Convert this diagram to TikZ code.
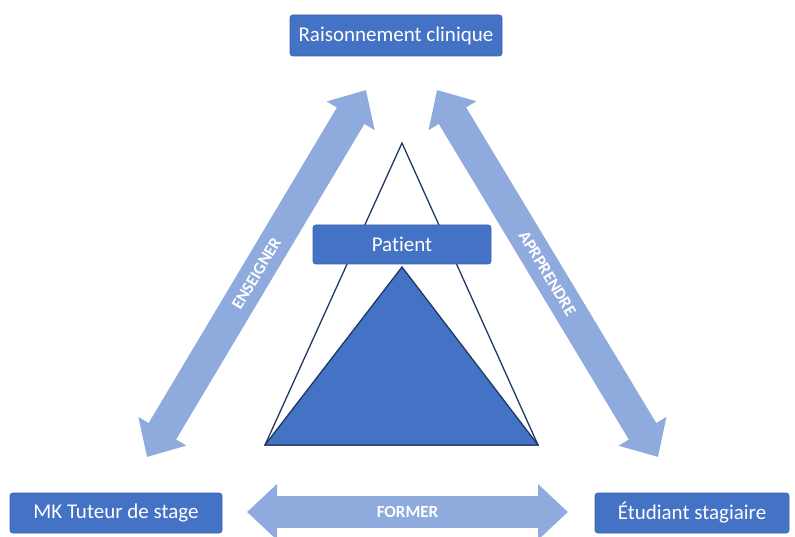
\documentclass[tikz,border=0pt]{standalone}
\usepackage{fontspec}
\setmainfont{Carlito}[Ligatures=NoCommon]
\usetikzlibrary{arrows.meta}
\definecolor{boxblue}{HTML}{4472C4}
\definecolor{boxedge}{HTML}{3A63AD}
\definecolor{arrblue}{HTML}{8FAADC}
\definecolor{navy}{HTML}{1F3864}
\tikzset{
  bluebox/.style={draw=boxedge, line width=0.8pt, fill=boxblue, rounded corners=3pt,
    text=white, font=\fontsize{21}{24}\selectfont, inner sep=0pt, anchor=center},
  fatarrow/.style={draw=arrblue, line width=32pt,
    {Triangle[width=54pt,length=30pt]}-{Triangle[width=54pt,length=30pt]}},
  arrlabel/.style={text=white, font=\bfseries\fontsize{17}{19}\selectfont, midway, sloped, inner sep=0pt},
  tri/.style={draw=navy, line width=1.3pt, line join=miter}
}
\begin{document}
\begin{tikzpicture}[x=1pt,y=-1pt]
\useasboundingbox (0,0) rectangle (795,537);
% triangles
\coordinate (tA) at (402,143);
\coordinate (tB) at (402,267);
\coordinate (bl) at (265,445);
\coordinate (br) at (538,445);
\draw[tri] (tA) -- (bl) -- (br) -- cycle;
\draw[tri, fill=boxblue] (tB) -- (bl) -- (br) -- cycle;
% boxes
\node[bluebox, minimum width=212pt, minimum height=41pt] (rc) at (396,35.5) {Raisonnement clinique};
\node[bluebox, minimum width=212pt, minimum height=40pt] (mk) at (116,513) {MK Tuteur de stage};
\node[bluebox, minimum width=194pt, minimum height=40pt] (et) at (692,513) {Étudiant stagiaire};
\node[bluebox, minimum width=178pt, minimum height=39pt] (pa) at (402,244.5) {Patient};
% arrows
\coordinate (eL) at (147,457);
\coordinate (eU) at (366,90);
\coordinate (aU) at (437,90);
\coordinate (aL) at (658,457);
\coordinate (fL) at (247,512);
\coordinate (fR) at (568,512);
\draw[fatarrow] (eL) -- (eU) node[arrlabel] {ENSEIGNER};
\draw[fatarrow] (aU) -- (aL) node[arrlabel] {APRPRENDRE};
\draw[fatarrow] (fL) -- (fR) node[arrlabel] {FORMER};
\end{tikzpicture}
\end{document}
